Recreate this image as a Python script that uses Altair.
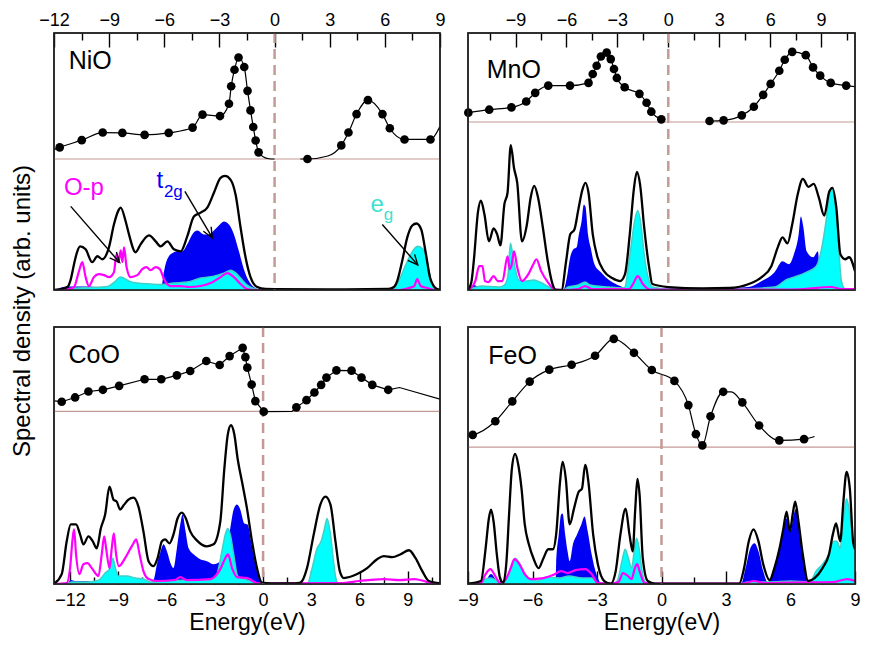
import altair as alt
import pandas as pd

FONT = "Liberation Sans"
H = 257          # plot height in pixels
YMAX = 259       # y-domain top (arbitrary units)

# ---------------- NiO ----------------
NIO_DOM = [-12, 9]
NIO_LABELS = [-12, -9, -6, -3, 0, 3, 6, 9]
NIO_BASE = 132
# (energy, intensity, segment, is_measured_point)
NIO_EXP = [
    (-12.0, 141.5, 0, 0),
    (-11.69, 143.7, 0, 1), (-10.49, 151, 0, 1), (-9.35, 158.7, 0, 1), (-8.28, 158.3, 0, 1),
    (-7.07, 156.3, 0, 1), (-5.76, 158.3, 0, 1), (-4.46, 163.7, 0, 1), (-3.92, 176.7, 0, 1),
    (-2.97, 175.3, 0, 1), (-2.48, 187.7, 0, 1), (-2.36, 205.3, 0, 1), (-2.18, 222, 0, 1),
    (-1.96, 234.3, 0, 1), (-1.65, 224.7, 0, 1), (-1.47, 200.7, 0, 1), (-1.31, 181, 0, 1),
    (-1.16, 164.3, 0, 1), (-1.03, 150.7, 0, 1), (-0.87, 138.7, 0, 1),
    (-0.6, 134, 0, 0), (-0.3, 132.3, 0, 0), (0.0, 132, 0, 0),
    (1.4, 132, 1, 0), (1.79, 132, 1, 1), (2.9, 135, 1, 0), (3.63, 145.7, 1, 1),
    (4.02, 158.7, 1, 1), (4.46, 177.3, 1, 1), (5.08, 191.3, 1, 1), (5.87, 177.3, 1, 1),
    (6.27, 163, 1, 1), (7.07, 151.7, 1, 1), (8.48, 151.7, 1, 1), (9.0, 165, 1, 0),
]
NIO_TOT = [(-12, 0), (-11.6, 1), (-11.27, 3), (-11.1, 10), (-10.91, 26), (-10.75, 38), (-10.58, 44),
           (-10.28, 41), (-9.92, 28), (-9.64, 34), (-9.37, 31), (-9.01, 43), (-8.74, 66), (-8.5, 80),
           (-8.37, 83), (-8.1, 69), (-7.92, 56), (-7.56, 38), (-7.29, 46), (-6.83, 55), (-6.47, 49),
           (-6.2, 44), (-5.83, 49), (-5.48, 41), (-5.11, 39), (-4.75, 54), (-4.39, 74), (-4.02, 78),
           (-3.66, 83), (-3.3, 98), (-2.94, 113), (-2.7, 115), (-2.39, 111), (-2.12, 96), (-1.85, 63),
           (-1.58, 33), (-1.31, 13), (-0.94, 3), (-0.5, 1), (0, 0.8), (3, 0.5), (6.2, 1), (6.49, 3),
           (6.67, 9), (6.94, 29), (7.22, 53), (7.49, 65), (7.72, 67), (7.98, 61), (8.21, 39),
           (8.48, 11), (8.85, 1), (9, 0.5)]
NIO_T2G = [(-12, 0), (-11.7, 2), (-11.3, 3.5), (-10.5, 3.5), (-10, 3.5), (-9.6, 2), (-9.3, 0.5),
           (-6.4, 0.5), (-6.15, 3), (-6.05, 15), (-5.93, 26), (-5.75, 34), (-5.57, 37), (-5.29, 39),
           (-5.02, 39), (-4.75, 46), (-4.48, 56), (-4.2, 60), (-3.84, 56), (-3.57, 56), (-3.3, 60),
           (-3.03, 65), (-2.76, 69), (-2.48, 66), (-2.21, 56), (-1.94, 39), (-1.67, 21), (-1.4, 9),
           (-1.13, 3), (-0.76, 0.5), (0, 0), (9, 0)]
NIO_EG = [(-12, 0), (-11.3, 1), (-10.9, 2), (-10, 2.5), (-9.1, 3.5), (-8.65, 9), (-8.4, 13),
          (-8.2, 12), (-7.92, 9), (-7.47, 7), (-6.74, 6), (-6.2, 5.5), (-5.48, 7), (-4.75, 8),
          (-4.02, 12), (-3.3, 14), (-2.76, 17), (-2.39, 20), (-2.1, 17), (-1.85, 12), (-1.49, 5),
          (-1.13, 1.5), (-0.7, 0), (6.3, 0), (6.49, 1), (6.85, 13), (7.22, 29), (7.58, 41),
          (7.79, 44), (8.08, 41), (8.3, 29), (8.52, 9), (8.75, 1), (9, 0)]
NIO_OP = [(-12, 0), (-11.2, 1), (-10.91, 3), (-10.64, 19), (-10.46, 28), (-10.28, 13), (-10.1, 4),
          (-9.83, 13), (-9.56, 16), (-9.28, 15), (-9.01, 13), (-8.74, 18), (-8.6, 36), (-8.5, 28),
          (-8.37, 40), (-8.28, 28), (-8.19, 43), (-8.05, 23), (-7.83, 13), (-7.47, 15), (-7.2, 21),
          (-6.97, 23), (-6.74, 20), (-6.47, 23), (-6.24, 21), (-6.02, 11), (-5.66, 4), (-5.11, 4),
          (-4.66, 3), (-4.02, 4), (-3.48, 7), (-2.94, 13), (-2.57, 17), (-2.21, 13), (-1.85, 6),
          (-1.49, 1), (-1.0, 0), (6.8, 0), (7.3, 2), (7.6, 4), (7.76, 11), (7.95, 4), (8.3, 2),
          (8.7, 0), (9, 0)]

# ---------------- MnO ----------------
MNO_DOM = [-11.8, 11]
MNO_LABELS = [-9, -6, -3, 0, 3, 6, 9]
MNO_BASE = 169.3
MNO_EXP = [
    (-11.78, 178.7, 0, 1), (-10.55, 181.7, 0, 1), (-9.24, 184, 0, 1), (-8.37, 190, 0, 1),
    (-7.84, 198.7, 0, 1), (-7.07, 206, 0, 1), (-5.79, 206, 0, 1), (-4.7, 208.7, 0, 1),
    (-4.45, 217.7, 0, 1), (-4.22, 226, 0, 1), (-3.97, 235.3, 0, 1), (-3.63, 239.3, 0, 1),
    (-3.39, 232.7, 0, 1), (-3.2, 222.7, 0, 1), (-3.03, 213.7, 0, 1), (-2.57, 204.3, 0, 1),
    (-1.7, 197.7, 0, 1), (-1.28, 188.7, 0, 1), (-1.0, 179.7, 0, 1), (-0.41, 172, 0, 1),
    (2.43, 170.3, 1, 1), (3.26, 171, 1, 1), (4.33, 176, 1, 1), (5.04, 184.7, 1, 1),
    (5.59, 196.7, 1, 1), (6.03, 207.7, 1, 1), (6.54, 221, 1, 1), (6.86, 232, 1, 1),
    (7.3, 240, 1, 1), (8.1, 236.7, 1, 1), (8.53, 224.3, 1, 1), (8.95, 216, 1, 1),
    (9.57, 208.7, 1, 1), (10.48, 206, 1, 1), (11.0, 205, 1, 0),
]
MNO_TOT = [(-11.8, 0), (-11.6, 8), (-11.46, 29), (-11.21, 79), (-11.04, 90), (-10.83, 76),
           (-10.57, 49), (-10.29, 62), (-10.08, 56), (-9.89, 45), (-9.66, 86), (-9.47, 98),
           (-9.28, 146), (-9.09, 123), (-8.9, 108), (-8.62, 49), (-8.33, 66), (-8.11, 93),
           (-7.9, 105), (-7.67, 93), (-7.39, 63), (-7.1, 29), (-6.82, 6), (-6.63, 0), (-6.29, 0),
           (-6.02, 29), (-5.78, 56), (-5.53, 61), (-5.3, 81), (-5.06, 101), (-4.88, 108),
           (-4.7, 98), (-4.45, 56), (-4.17, 33), (-3.79, 19), (-3.31, 12), (-2.84, 9), (-2.55, 16),
           (-2.27, 56), (-2.02, 103), (-1.85, 119), (-1.66, 106), (-1.42, 63), (-1.13, 23),
           (-0.94, 6), (0, 3), (2, 1.5), (3.6, 2), (4.74, 6), (5.5, 13), (6.07, 24), (6.45, 43),
           (6.73, 53), (7.02, 47), (7.3, 66), (7.62, 96), (7.93, 112), (8.25, 104), (8.57, 107),
           (8.87, 93), (9.19, 75), (9.48, 99), (9.67, 103), (9.9, 83), (10.14, 36), (10.42, 31),
           (10.65, 33), (11.0, 19)]
MNO_T2G = [(-11.8, 0), (-11.6, 3), (-11.45, 5), (-11.2, 3), (-10.9, 1), (-10.2, 2), (-9.8, 1),
           (-6.7, 0), (-6.2, 0), (-6.1, 3), (-5.97, 13), (-5.78, 33), (-5.59, 41), (-5.4, 43),
           (-5.27, 56), (-5.11, 69), (-4.98, 86), (-4.88, 84), (-4.73, 56), (-4.58, 43),
           (-4.35, 26), (-3.97, 18), (-3.41, 9), (-2.84, 4), (-2.46, 1.5), (0, 1.5), (3, 1.5),
           (4.74, 3), (5.5, 9), (6.26, 18), (6.73, 29), (7.11, 26), (7.4, 36), (7.68, 56),
           (7.81, 74), (7.96, 63), (8.15, 39), (8.53, 33), (8.82, 39), (8.91, 19), (9.2, 15),
           (10, 3), (10.5, 0), (11, 0)]
MNO_EG = [(-11.8, 0), (-11.5, 2), (-11.0, 4), (-10.0, 3), (-9.66, 5), (-9.45, 14), (-9.3, 47),
          (-9.15, 34), (-9.0, 20), (-8.8, 10), (-8.33, 9), (-7.95, 10), (-7.58, 8), (-7.02, 3),
          (-6.7, 0), (-6.2, 0), (-5.9, 3), (-5.3, 5), (-4.9, 8), (-4.6, 5), (-3.5, 3), (-2.7, 2),
          (-2.55, 3), (-2.36, 23), (-2.18, 46), (-1.99, 69), (-1.8, 80), (-1.61, 66), (-1.42, 36),
          (-1.13, 9), (-0.94, 3), (0, 1), (4, 1), (6.26, 3), (7.02, 11), (7.4, 13), (8.15, 18),
          (8.72, 24), (9.0, 39), (9.29, 69), (9.52, 99), (9.63, 103), (9.82, 89), (10.0, 53),
          (10.2, 9), (10.42, 1), (11, 0)]
MNO_OP = [(-11.8, 0), (-11.7, 1), (-11.37, 9), (-11.14, 24), (-10.95, 24), (-10.8, 9), (-10.6, 8),
          (-10.29, 14), (-10.05, 9), (-9.77, 9), (-9.47, 34), (-9.34, 21), (-9.22, 26), (-9.09, 39),
          (-8.9, 23), (-8.62, 9), (-8.24, 16), (-7.95, 26), (-7.77, 31), (-7.49, 19), (-7.1, 8),
          (-6.73, 1), (-6.3, 0), (-5.3, 1), (-4.9, 4), (-4.5, 1), (-2.3, 1), (-2.08, 6), (-1.8, 14),
          (-1.5, 6), (-1.1, 0.5), (0, 0.3), (7, 0.5), (8, 1), (9.6, 3), (10.2, 1), (11, 1)]

# ---------------- CoO ----------------
COO_DOM = [-13, 11]
COO_LABELS = [-12, -9, -6, -3, 0, 3, 6, 9]
COO_BASE = 174
COO_EXP = [
    (-13.0, 184.5, 0, 0), (-12.52, 183.7, 0, 1), (-11.69, 188, 0, 1), (-10.86, 194, 0, 1),
    (-9.96, 195.7, 0, 1), (-8.95, 199.7, 0, 1), (-7.37, 206.3, 0, 1), (-6.33, 206.3, 0, 1),
    (-5.36, 210.3, 0, 1), (-4.53, 214.7, 0, 1), (-3.53, 224.7, 0, 1), (-2.7, 220.7, 0, 1),
    (-2.08, 229.7, 0, 1), (-1.27, 238, 0, 1), (-1.1, 228.7, 0, 1), (-0.98, 218, 0, 1),
    (-0.71, 201, 0, 1), (-0.48, 184.3, 0, 1), (0.04, 173.7, 0, 1), (1.8, 174, 0, 0),
    (2.07, 178, 0, 1), (2.7, 185.3, 0, 1), (3.19, 193, 0, 1), (3.61, 200.7, 0, 1),
    (3.94, 208, 0, 1), (4.56, 215.3, 0, 1), (5.5, 215, 0, 1), (6.12, 208, 0, 1),
    (6.79, 200.7, 0, 1), (7.78, 195.7, 0, 1), (8.48, 198, 0, 0), (11.0, 186.3, 0, 0),
]
COO_TOT = [(-13, 0.3), (-12.52, 10), (-12.21, 43), (-11.96, 60), (-11.63, 60), (-11.38, 50),
           (-11.17, 40), (-10.86, 48), (-10.59, 43), (-10.34, 36), (-10.09, 56), (-9.82, 70),
           (-9.55, 98), (-9.3, 85), (-9.1, 83), (-8.89, 75), (-8.64, 80), (-8.37, 85), (-8.06, 87),
           (-7.75, 78), (-7.44, 53), (-7.12, 23), (-6.81, 18), (-6.56, 26), (-6.29, 43),
           (-6.09, 45), (-5.82, 41), (-5.57, 50), (-5.32, 66), (-5.05, 72), (-4.8, 66), (-4.53, 53),
           (-4.12, 44), (-3.49, 38), (-3.08, 40), (-2.66, 63), (-2.41, 116), (-2.2, 150),
           (-2.0, 160), (-1.79, 151), (-1.58, 126), (-1.31, 103), (-1.0, 76), (-0.69, 43),
           (-0.38, 16), (-0.07, 1.3), (0.5, 0.5), (2.0, 0.5), (2.32, 1.3), (2.73, 16), (3.15, 50),
           (3.56, 80), (3.88, 88), (4.19, 80), (4.5, 43), (4.77, 13), (5.02, 6), (5.85, 10),
           (6.47, 16), (7.09, 25), (7.51, 28), (8.03, 27), (8.55, 30), (9.07, 34), (9.48, 26),
           (9.9, 13), (10.31, 3), (11, 0.7)]
COO_T2G = [(-13, 0), (-12.2, 0), (-11.95, 4), (-11.7, 3), (-11.4, 3), (-9.0, 3), (-7.8, 3),
           (-7.23, 2), (-6.9, 2), (-6.77, 6), (-6.6, 20), (-6.4, 31), (-6.19, 40), (-5.98, 33),
           (-5.73, 20), (-5.57, 16), (-5.36, 36), (-5.15, 60), (-5.01, 70), (-4.82, 53),
           (-4.63, 36), (-4.32, 30), (-3.91, 25), (-3.49, 23), (-3.08, 20), (-2.66, 23),
           (-2.35, 36), (-2.04, 56), (-1.83, 75), (-1.62, 80), (-1.42, 75), (-1.17, 61),
           (-0.96, 60), (-0.75, 43), (-0.48, 20), (-0.17, 3), (0, 0), (2.7, 0), (3.05, 10),
           (3.36, 15), (3.61, 20), (3.77, 13), (3.94, 16), (4.19, 6), (4.4, 1.3), (4.6, 0.5),
           (11, 0.5)]
COO_EG = [(-13, 0), (-12.2, 0), (-11.9, 2), (-11.0, 2), (-10.4, 3), (-10.13, 5), (-9.82, 11),
          (-9.51, 16), (-9.34, 26), (-9.18, 16), (-8.99, 8), (-8.47, 8), (-7.95, 6), (-7.44, 5),
          (-7.0, 2), (-6.0, 3), (-4.5, 4), (-3.3, 4), (-2.87, 10), (-2.56, 33), (-2.35, 50),
          (-2.2, 56), (-2.04, 50), (-1.83, 30), (-1.58, 8), (-1.21, 5), (-0.58, 2), (-0.1, 0),
          (2.75, 0), (3.05, 16), (3.36, 36), (3.61, 43), (3.82, 56), (3.98, 66), (4.19, 50),
          (4.4, 20), (4.56, 3), (4.7, 0), (11, 0)]
COO_OP = [(-13, 0), (-12.21, 1), (-12.0, 16), (-11.84, 46), (-11.75, 55), (-11.63, 30),
          (-11.42, 10), (-11.17, 20), (-10.92, 21), (-10.65, 16), (-10.24, 8), (-10.03, 30),
          (-9.88, 48), (-9.76, 36), (-9.55, 16), (-9.41, 36), (-9.28, 51), (-9.14, 30),
          (-8.97, 18), (-8.58, 26), (-8.27, 35), (-8.06, 41), (-7.89, 45), (-7.68, 30),
          (-7.44, 13), (-7.12, 5), (-6.6, 3), (-5.5, 4), (-5.15, 7), (-4.74, 4), (-3.28, 5),
          (-2.66, 15), (-2.35, 26), (-2.18, 30), (-1.93, 16), (-1.62, 7), (-1.0, 6), (-0.38, 1),
          (0, 0.5), (5.0, 1), (5.95, 3), (7.5, 5), (8.5, 4), (9.4, 5), (10.0, 3), (10.4, 1),
          (11, 0.5)]

# ---------------- FeO ----------------
FEO_DOM = [-9, 9]
FEO_LABELS = [-9, -6, -3, 0, 3, 6, 9]
FEO_BASE = 138
FEO_EXP = [
    (-9.0, 149.7, 0, 0), (-8.78, 150.3, 0, 1), (-7.73, 164, 0, 1), (-6.94, 184, 0, 1),
    (-6.13, 204, 0, 1), (-5.22, 216, 0, 1), (-4.18, 221, 0, 1), (-3.09, 230, 0, 1),
    (-2.22, 247, 0, 1), (-1.28, 233, 0, 1), (-0.45, 215.7, 0, 1), (0.6, 204.7, 0, 1),
    (1.25, 180.3, 0, 1), (1.6, 151, 0, 1), (1.9, 139.7, 0, 1), (2.28, 169, 0, 1),
    (2.87, 193.7, 0, 1), (3.25, 193.7, 0, 0), (3.76, 183, 0, 1), (4.54, 159.7, 0, 1),
    (5.48, 144.7, 0, 1), (6.63, 146, 0, 1), (7.12, 148.7, 0, 0),
]
FEO_TOT = [(-9, 0.3), (-8.4, 3), (-8.18, 36), (-8.03, 66), (-7.93, 75), (-7.81, 63), (-7.66, 30),
           (-7.51, 6), (-7.36, 1.3), (-7.21, 23), (-7.09, 70), (-6.96, 116), (-6.81, 131),
           (-6.66, 120), (-6.51, 96), (-6.36, 60), (-6.17, 40), (-5.94, 25), (-5.72, 16),
           (-5.49, 26), (-5.27, 35), (-5.05, 35), (-4.9, 50), (-4.72, 103), (-4.6, 123),
           (-4.45, 106), (-4.27, 60), (-4.07, 76), (-3.85, 93), (-3.7, 96), (-3.55, 120),
           (-3.4, 103), (-3.18, 50), (-2.96, 20), (-2.66, 3), (-2.36, 0.3), (-2.13, 13),
           (-1.91, 50), (-1.67, 76), (-1.49, 50), (-1.34, 33), (-1.22, 76), (-1.12, 106),
           (-1.02, 90), (-0.87, 26), (-0.64, 3), (-0.3, 0.3), (3.61, 0.3), (3.84, 16), (4.06, 43),
           (4.28, 55), (4.51, 43), (4.73, 20), (5.03, 4), (5.25, 16), (5.48, 35), (5.67, 56),
           (5.82, 73), (5.97, 53), (6.1, 70), (6.22, 83), (6.37, 63), (6.57, 30), (6.82, 3),
           (7.12, 6), (7.49, 16), (7.79, 30), (7.97, 50), (8.12, 61), (8.31, 43), (8.46, 83),
           (8.61, 113), (8.76, 96), (8.91, 43), (9.0, 35)]
FEO_T2G = [(-9, 0), (-8.4, 0), (-8.18, 3), (-7.93, 10), (-7.66, 3), (-7.4, 0.5), (-5.0, 1),
           (-4.93, 1), (-4.9, 20), (-4.78, 50), (-4.67, 70), (-4.6, 71), (-4.48, 50), (-4.37, 33),
           (-4.27, 23), (-4.12, 40), (-3.93, 50), (-3.73, 60), (-3.58, 68), (-3.43, 53),
           (-3.25, 30), (-3.03, 10), (-2.81, 1), (-2.5, 0), (-1.8, 0), (-1.69, 5), (-1.46, 10),
           (-1.31, 6), (-1.02, 13), (-0.79, 3), (-0.6, 0), (3.7, 0), (3.91, 16), (4.13, 36),
           (4.33, 41), (4.51, 33), (4.73, 13), (4.96, 1), (5.18, 13), (5.4, 30), (5.63, 50),
           (5.82, 66), (6.0, 53), (6.15, 70), (6.27, 76), (6.42, 56), (6.6, 23), (6.82, 1), (9, 0)]
FEO_EG = [(-9, 0), (-8.4, 0), (-8.18, 5), (-7.93, 6), (-7.66, 3), (-7.36, 0.5), (-7.13, 10),
          (-6.96, 20), (-6.81, 26), (-6.61, 21), (-6.39, 11), (-6.09, 5), (-5.79, 3), (-5.34, 7),
          (-4.75, 6), (-4.3, 8), (-3.7, 6), (-3.25, 6), (-2.96, 1), (-2.3, 0), (-2.06, 3),
          (-1.84, 23), (-1.69, 35), (-1.54, 26), (-1.39, 16), (-1.27, 33), (-1.16, 46),
          (-1.04, 36), (-0.9, 13), (-0.72, 1), (-0.5, 0), (3.7, 0), (4.0, 2), (5.0, 2), (6.0, 3),
          (6.9, 2), (7.19, 13), (7.49, 20), (7.79, 30), (8.01, 43), (8.16, 43), (8.31, 36),
          (8.46, 66), (8.61, 86), (8.76, 70), (8.91, 43), (9.0, 35)]
FEO_OP = [(-9, 0), (-8.4, 1), (-8.18, 10), (-7.96, 15), (-7.73, 8), (-7.51, 1), (-7.21, 6),
          (-7.01, 16), (-6.84, 25), (-6.61, 20), (-6.36, 10), (-6.09, 5), (-5.49, 6), (-5.05, 9),
          (-4.67, 13), (-4.37, 11), (-4.0, 14), (-3.55, 15), (-3.25, 10), (-2.96, 1), (-2.3, 0.5),
          (-2.0, 2), (-1.79, 11), (-1.61, 9), (-1.39, 5), (-1.24, 16), (-1.13, 20), (-1.02, 13),
          (-0.79, 1), (-0.5, 0.5), (3.8, 0.5), (4.3, 3), (4.8, 1), (6.0, 1.5), (8.0, 2),
          (8.65, 5), (9.0, 3)]

# ---------------- annotations (NiO) ----------------
NIO_ARROWS = [  # tail x, y -> head x2, y2, head angle (deg, clockwise from up)
    (-11.09, 84.3, -8.43, 27.7, 139),
    (-4.88, 99.3, -3.39, 52.7, 150),
    (5.86, 66, 7.79, 25.3, 139),
]
NIO_TEXTS = [  # x, y, text, size, colour
    (-11.46, 96, "O-p", 24, "#ff00ff"),
    (-6.43, 103, "t", 24, "#0000f5"),
    (-6.02, 94, "2g", 17, "#0000f5"),
    (5.22, 79, "e", 24, "#40e0d0"),
    (5.94, 71, "g", 17, "#40e0d0"),
]

BLUE = "#0000f5"
CYAN = "#00ffff"
CYAN_EDGE = "#40d0c8"
MAGENTA = "#ff00ff"
ROSY = "#c49a96"
FRAME = "#222222"

EXP_INTERP = {"NiO": "monotone", "MnO": "monotone", "CoO": "linear", "FeO": "monotone"}
IS_MINOR = "abs(datum.value % 3) > 0.1"


def pairs(p):
    return pd.DataFrame(p, columns=["x", "y"])


def panel(name, dom, labels, base, exp, tot, t2g, eg, op, width, top, name_pos, extra=None):
    xs = alt.Scale(domain=dom, nice=False, zero=False)
    ys = alt.Scale(domain=[0, YMAX], nice=False, zero=False)
    lo, hi = dom
    majors = [v for v in range(-15, 16, 3) if lo - 1e-9 <= v <= hi + 1e-9]
    minors = [v + 1.5 for v in range(-15, 16, 3) if lo <= v + 1.5 <= hi]
    tick_vals = sorted(majors + minors)
    # the axis line is pushed inside the frame by its own tick length, so its ticks
    # point back to the frame edge; minor ticks show only their outer half (dash)
    tl = 14 if top else 13
    common = dict(values=tick_vals, labelExpr=f"{IS_MINOR} ? '' : datum.label",
                  ticks=True, tickSize=tl, offset=-tl, tickColor="black", tickWidth=1.4,
                  tickDash={"condition": {"test": IS_MINOR, "value": [7, tl - 7]},
                            "value": [tl + 6, 0]},
                  tickDashOffset={"condition": {"test": IS_MINOR, "value": 7}, "value": 0},
                  domain=False, grid=False, labelFontSize=18, labelFont=FONT,
                  labelColor="black", labelFlush=False, labelOverlap=False)
    if top:
        xaxis = alt.Axis(orient="top", labelPadding=4, title=None, **common)
    else:
        xaxis = alt.Axis(orient="bottom", labelPadding=7, title="Energy(eV)",
                         titleFontSize=23, titleFont=FONT, titleFontWeight="normal",
                         titleColor="black", titlePadding=2, **common)
    X = alt.X("x:Q", scale=xs, axis=xaxis)
    Y = alt.Y("y:Q", scale=ys, axis=None)

    expdf = pd.DataFrame(exp, columns=["x", "y", "seg", "dot"])
    layers = [
        alt.Chart(pairs(t2g)).mark_area(color=BLUE, interpolate="monotone", clip=True,
                                        opacity=1).encode(x=X, y=Y),
        alt.Chart(pairs(eg)).mark_area(fill=CYAN, stroke=CYAN_EDGE, strokeWidth=1.5,
                                       interpolate="monotone", clip=True,
                                       opacity=1).encode(x=X, y=Y),
        alt.Chart(pairs(op)).mark_line(color=MAGENTA, strokeWidth=2.2, interpolate="monotone",
                                       clip=True).encode(x=X, y=Y),
        alt.Chart(pairs(tot)).mark_line(color="black", strokeWidth=2.3, interpolate="monotone",
                                        clip=True).encode(x=X, y=Y),
        alt.Chart(pd.DataFrame({"y": [base]})).mark_rule(color=ROSY, strokeWidth=1.2).encode(y=Y),
        alt.Chart(pd.DataFrame({"x": [0]})).mark_rule(color=ROSY, strokeWidth=2.5,
                                                      strokeDash=[10, 6]).encode(x=X),
        alt.Chart(expdf).mark_line(color="black", strokeWidth=1.2, interpolate=EXP_INTERP[name],
                                   clip=True).encode(x=X, y=Y, detail="seg:N"),
        alt.Chart(expdf[expdf["dot"] == 1]).mark_circle(color="black", size=75,
                                                         opacity=1).encode(x=X, y=Y),
        alt.Chart(pd.DataFrame({"x": [dom[0]], "x2": [dom[1]], "y": [0], "y2": [YMAX]}))
        .mark_rect(fill="white", fillOpacity=0, stroke=FRAME, strokeWidth=1.5)
        .encode(x=X, x2="x2:Q", y=Y, y2="y2:Q"),
        alt.Chart(pd.DataFrame({"x": [name_pos[0]], "y": [name_pos[1]], "t": [name]}))
        .mark_text(align="left", baseline="alphabetic", fontSize=25, font=FONT,
                   color="black").encode(x=X, y=Y, text="t:N"),
    ]
    if extra:
        layers += extra(X, Y)
    return alt.layer(*layers).properties(width=width, height=H)


def nio_extra(X, Y):
    arr = pd.DataFrame(NIO_ARROWS, columns=["x", "y", "x2", "y2", "ang"])
    heads = pd.DataFrame({"x": arr["x2"], "y": arr["y2"], "ang": arr["ang"]})
    txt = pd.DataFrame(NIO_TEXTS, columns=["x", "y", "t", "s", "c"])
    out = [
        alt.Chart(arr).mark_rule(color="black", strokeWidth=1.4).encode(
            x=X, y=Y, x2="x2:Q", y2="y2:Q"),
        alt.Chart(heads).mark_point(shape="M -0.45 1 L 0 0 L 0.45 1", filled=False, size=400,
                                    color="black", strokeWidth=1.4, opacity=1).encode(
            x=X, y=Y, angle=alt.Angle("ang:Q", scale=None)),
    ]
    for _, r in txt.iterrows():
        out.append(alt.Chart(pd.DataFrame({"x": [r.x], "y": [r.y], "t": [r.t]}))
                   .mark_text(align="left", baseline="alphabetic", fontSize=int(r.s), font=FONT,
                              color=r.c).encode(x=X, y=Y, text="t:N"))
    out.append(alt.Chart(pd.DataFrame({"t": ["Spectral density (arb. units)"]}))
               .mark_text(angle=270, align="center", baseline="middle", fontSize=24, font=FONT,
                          color="black").encode(x=alt.value(-31), y=alt.value(278), text="t:N"))
    return out


nio = panel("NiO", NIO_DOM, NIO_LABELS, NIO_BASE, NIO_EXP, NIO_TOT, NIO_T2G, NIO_EG, NIO_OP,
            386, True, (-11.2, 223), extra=nio_extra)
mno = panel("MnO", MNO_DOM, MNO_LABELS, MNO_BASE, MNO_EXP, MNO_TOT, MNO_T2G, MNO_EG, MNO_OP,
            387, True, (-10.7, 214))
coo = panel("CoO", COO_DOM, COO_LABELS, COO_BASE, COO_EXP, COO_TOT, COO_T2G, COO_EG, COO_OP,
            386, False, (-12.1, 223))
feo = panel("FeO", FEO_DOM, FEO_LABELS, FEO_BASE, FEO_EXP, FEO_TOT, FEO_T2G, FEO_EG, FEO_OP,
            387, False, (-8.06, 222))

chart = alt.concat(nio, mno, coo, feo, columns=2).properties(
    spacing={"row": 37, "column": 28},
    bounds="flush",
    padding={"left": 2, "top": 2, "right": 0, "bottom": 0},
).configure_view(stroke=FRAME, strokeWidth=1.5)

chart.save("out.html", embed_options={"renderer": "svg", "actions": False})
